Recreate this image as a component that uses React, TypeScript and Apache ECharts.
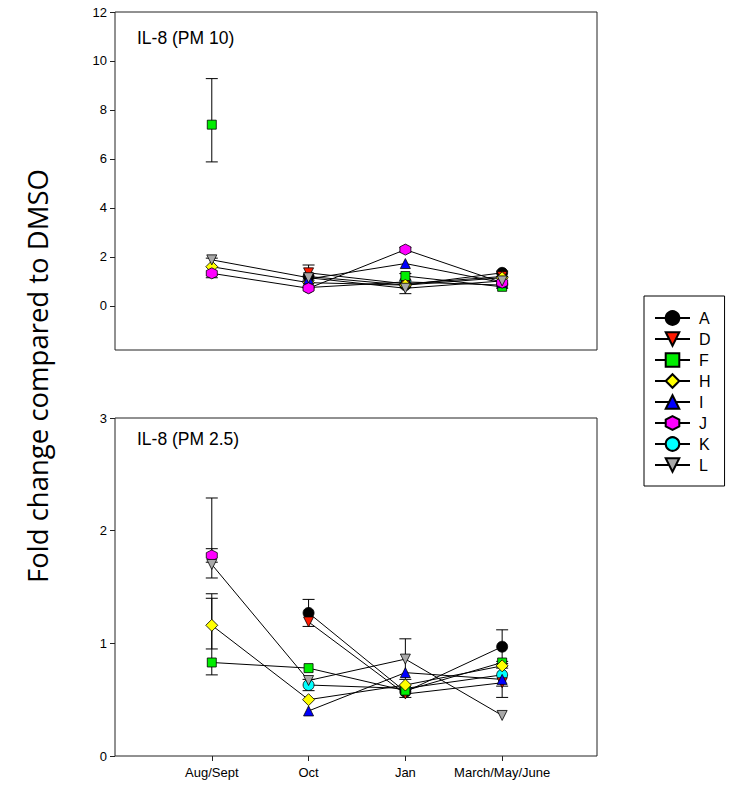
import React, { useEffect, useRef } from "react";
import * as echarts from "echarts";

const periods = ["Aug/Sept", "Oct", "Jan", "March/May/June"];
const periodX = [1, 2, 3, 4];
const names = ["A", "D", "F", "H", "I", "J", "K", "L"];

// IL-8 (PM 10) means, per period
const pm10A = [null, 1.2, 0.85, 1.35];
const pm10D = [null, 1.35, 0.9, 1.2];
const pm10F = [7.4, null, 1.22, 0.78];
const pm10H = [1.6, 0.95, 0.85, 1.15];
const pm10I = [null, 1.1, 1.73, 0.95];
const pm10J = [1.33, 0.72, 2.3, 0.95];
const pm10K = [null, 0.75, 0.98, 0.85];
const pm10L = [1.88, 1.15, 0.72, 1.02];

// IL-8 (PM 2.5) means, per period
const pm25A = [null, 1.27, 0.57, 0.97];
const pm25D = [null, 1.19, 0.55, 0.65];
const pm25F = [0.83, 0.78, 0.58, 0.83];
const pm25H = [1.16, 0.5, 0.63, 0.8];
const pm25I = [null, 0.4, 0.74, 0.68];
const pm25J = [1.78, null, null, null];
const pm25K = [null, 0.63, 0.6, 0.72];
const pm25L = [1.7, 0.67, 0.86, 0.36];

// error bars: [period x, low, high]
const errPM10 = [
  [1, 5.88, 9.28],
  [1, 1.15, 1.95],
  [2, 1.05, 1.67],
  [3, 2.2, 2.38],
  [3, 1.05, 1.32],
  [3, 0.5, 0.75],
  [4, 1.2, 1.42],
  [4, 0.72, 0.9],
];
const errPM25 = [
  [1, 1.58, 2.29],
  [1, 1.72, 1.84],
  [1, 0.95, 1.44],
  [1, 0.72, 1.4],
  [2, 1.15, 1.39],
  [2, 0.58, 0.68],
  [3, 0.68, 1.04],
  [3, 0.52, 0.6],
  [4, 0.82, 1.12],
  [4, 0.52, 0.78],
  [4, 0.62, 0.84],
];

const pm10Ticks = [0, 2, 4, 6, 8, 10, 12];
const pm25Ticks = [0, 1, 2, 3];

const colors: Record<string, string> = {
  A: "#000000",
  D: "#ff1a00",
  F: "#00ee00",
  H: "#ffff00",
  I: "#0000ff",
  J: "#ff00ff",
  K: "#00ffff",
  L: "#a8a8a8",
};
const downTri = "path://M0,0 L10,0 L5,9 Z";
const hexagon = "path://M5,0 L9.33,2.5 L9.33,7.5 L5,10 L0.67,7.5 L0.67,2.5 Z";
const symbols: Record<string, string> = {
  A: "circle",
  D: downTri,
  F: "rect",
  H: "diamond",
  I: "triangle",
  J: hexagon,
  K: "circle",
  L: downTri,
};
const sizes: Record<string, number> = { A: 11, D: 10, F: 9, H: 12, I: 10, J: 11, K: 11, L: 10 };
const layer: Record<string, number> = { A: 3, D: 3, F: 3, H: 3, I: 3, J: 3, K: 2, L: 3 };

const pm10 = [pm10A, pm10D, pm10F, pm10H, pm10I, pm10J, pm10K, pm10L];
const pm25 = [pm25A, pm25D, pm25F, pm25H, pm25I, pm25J, pm25K, pm25L];

const FONT = "Liberation Sans, Arial, sans-serif";

function errSeries(data: number[][], idx: number) {
  return {
    type: "custom",
    name: "err" + idx,
    xAxisIndex: idx,
    yAxisIndex: idx,
    z: 1,
    silent: true,
    data,
    encode: { x: 0, y: [1, 2] },
    renderItem: (params: any, api: any) => {
      const x = api.value(0);
      const lo = api.coord([x, api.value(1)]);
      const hi = api.coord([x, api.value(2)]);
      const hw = 6;
      const st = { stroke: "#000", lineWidth: 1 };
      return {
        type: "group",
        children: [
          { type: "line", shape: { x1: lo[0], y1: lo[1], x2: hi[0], y2: hi[1] }, style: st },
          { type: "line", shape: { x1: lo[0] - hw, y1: lo[1], x2: lo[0] + hw, y2: lo[1] }, style: st },
          { type: "line", shape: { x1: hi[0] - hw, y1: hi[1], x2: hi[0] + hw, y2: hi[1] }, style: st },
        ],
      };
    },
  };
}

function lineSeries(values: (number | null)[], name: string, idx: number) {
  return {
    type: "line",
    name,
    xAxisIndex: idx,
    yAxisIndex: idx,
    z: layer[name],
    data: values.map((v, i) => [periodX[i], v]),
    connectNulls: false,
    symbol: symbols[name],
    symbolSize: sizes[name],
    showAllSymbol: true,
    lineStyle: { color: "#000", width: 1 },
    itemStyle: { color: colors[name], borderColor: "#000", borderWidth: 0.8 },
    emphasis: { disabled: true },
  };
}

export default function App() {
  const ref = useRef<HTMLDivElement>(null);
  useEffect(() => {
    if (!ref.current) return;
    const chart = echarts.init(ref.current, undefined, { renderer: "svg" });
    const xBase = {
      type: "value",
      min: 0,
      max: 4.98,
      splitLine: { show: false },
      axisLine: { show: false },
    };
    const option: any = {
      animation: false,
      backgroundColor: "#fff",
      grid: [
        { left: 115, top: 12, width: 482, height: 338, show: true, borderColor: "#222", borderWidth: 1 },
        { left: 115, top: 418, width: 482, height: 338, show: true, borderColor: "#222", borderWidth: 1 },
      ],
      xAxis: [
        { ...xBase, gridIndex: 0, axisTick: { show: false }, axisLabel: { show: false } },
        {
          ...xBase,
          gridIndex: 1,
          axisTick: { show: true, length: 5, customValues: periodX, lineStyle: { color: "#222" } },
          axisLabel: {
            show: true,
            customValues: periodX,
            margin: 10,
            fontSize: 13,
            color: "#000",
            fontFamily: FONT,
            formatter: (v: number) => periods[Math.round(v) - 1] ?? "",
          },
        },
      ],
      yAxis: [
        {
          type: "value",
          gridIndex: 0,
          min: -1.8,
          max: 12,
          splitLine: { show: false },
          axisLine: { show: false },
          axisTick: { show: true, length: 5, customValues: pm10Ticks, lineStyle: { color: "#222" } },
          axisLabel: { customValues: pm10Ticks, fontSize: 13, color: "#000", fontFamily: FONT, margin: 8 },
        },
        {
          type: "value",
          gridIndex: 1,
          min: 0,
          max: 3,
          splitLine: { show: false },
          axisLine: { show: false },
          axisTick: { show: true, length: 5, customValues: pm25Ticks, lineStyle: { color: "#222" } },
          axisLabel: { customValues: pm25Ticks, fontSize: 13, color: "#000", fontFamily: FONT, margin: 8 },
        },
      ],
      legend: {
        data: names,
        orient: "vertical",
        left: 644,
        top: 296,
        padding: [14, 14, 13, 10],
        itemWidth: 35,
        itemHeight: 17,
        itemGap: 5,
        borderColor: "#000",
        borderWidth: 1,
        selectedMode: false,
        textStyle: { fontSize: 16, color: "#000", fontFamily: FONT, padding: [0, 0, 0, 4] },
      },
      graphic: [
        {
          type: "text",
          x: 137,
          y: 29,
          style: { text: "IL-8 (PM 10)", fontSize: 17.5, fontFamily: FONT, fill: "#000", textVerticalAlign: "top" },
        },
        {
          type: "text",
          x: 137,
          y: 430,
          style: { text: "IL-8 (PM 2.5)", fontSize: 17.5, fontFamily: FONT, fill: "#000", textVerticalAlign: "top" },
        },
        {
          type: "text",
          x: 37,
          y: 376,
          rotation: Math.PI / 2,
          style: {
            text: "Fold change compared to DMSO",
            fontSize: 27.5,
            fontFamily: "Open Sans, Noto Sans, sans-serif",
            fill: "#000",
            textAlign: "center",
            textVerticalAlign: "middle",
          },
        },
      ],
      series: [
        errSeries(errPM10, 0),
        errSeries(errPM25, 1),
        ...names.map((n, i) => lineSeries(pm10[i], n, 0)),
        ...names.map((n, i) => lineSeries(pm25[i], n, 1)),
      ],
    };
    chart.setOption(option);
    return () => chart.dispose();
  }, []);
  return <div ref={ref} style={{ width: 729, height: 793, position: "absolute", left: 0, top: 0 }} />;
}
